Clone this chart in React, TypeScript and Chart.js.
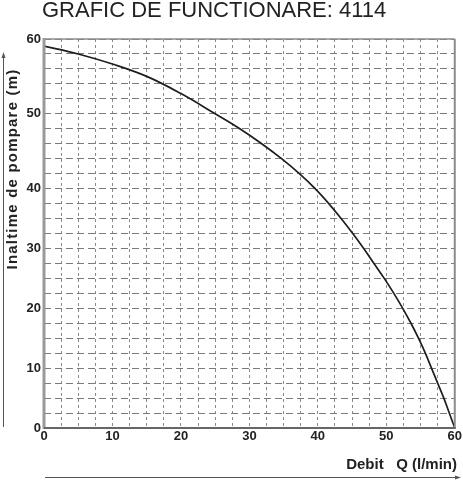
import React, { useEffect, useRef } from 'react';
import { Chart, registerables, LinearScale } from 'chart.js';

// ---- data ----
const FLOW_LPM = [0, 5, 10, 15, 20, 25, 28.6, 31.8, 34.7, 37.3, 39.6, 41.6, 43.4, 45.1, 46.7, 48.2, 49.7, 51.1, 52.4, 53.6, 54.7, 55.7, 56.6, 57.5, 58.4, 59.2, 60];
const HEAD_M = [59.05, 58.0, 56.65, 55.0, 52.7, 50.0, 48.0, 46.0, 44.0, 42.0, 40.0, 37.5, 35.0, 32.5, 30.0, 27.5, 25.0, 22.5, 20.0, 17.5, 15.0, 12.5, 10.0, 7.5, 5.0, 2.5, 0];

const X_TICK_LABELS = [0, 10, 20, 30, 40, 50, 60];
const Y_TICK_LABELS = [0, 10, 20, 30, 40, 50, 60];
// horizontal grid lines of the original sheet (2.5 m steps up to 40, then 2 m steps)
const Y_GRID_VALUES = [0, 2.5, 5, 7.5, 10, 12.5, 15, 17.5, 20, 22.5, 25, 27.5, 30, 32.5, 35, 37.5, 40, 42, 44, 46, 48, 50, 52, 54, 56, 58, 60];

const TITLE = 'GRAFIC DE FUNCTIONARE: 4114';
const Y_TITLE = 'Inaltime de pompare (m)';
const X_TITLE = 'Debit   Q (l/min)';

// The printed sheet's vertical axis is piecewise linear: 0-40 m uses 16 grid rows, 40-60 m uses 10.
const AXIS_BREAK_VALUES = [0, 40, 60];
const AXIS_BREAK_FRACTIONS = [0, 16 / 26, 1];

function valueToFraction(v: number) {
  const bv = AXIS_BREAK_VALUES, bf = AXIS_BREAK_FRACTIONS;
  for (let i = 1; i < bv.length; i++) {
    if (v <= bv[i] || i === bv.length - 1) {
      const t = (v - bv[i - 1]) / (bv[i] - bv[i - 1]);
      return bf[i - 1] + t * (bf[i] - bf[i - 1]);
    }
  }
  return 0;
}
function fractionToValue(f: number) {
  const bv = AXIS_BREAK_VALUES, bf = AXIS_BREAK_FRACTIONS;
  for (let i = 1; i < bf.length; i++) {
    if (f <= bf[i] || i === bf.length - 1) {
      const t = (f - bf[i - 1]) / (bf[i] - bf[i - 1]);
      return bv[i - 1] + t * (bv[i] - bv[i - 1]);
    }
  }
  return 0;
}

class BrokenLinearScale extends LinearScale {
  static id = 'brokenLinear';
  static defaults = LinearScale.defaults;
  getPixelForValue(value: any) {
    if (value === null || value === undefined || isNaN(value)) return NaN;
    return this.getPixelForDecimal(valueToFraction(value));
  }
  getValueForPixel(pixel: number) {
    return fractionToValue(this.getDecimalForPixel(pixel));
  }
}

Chart.register(...registerables, BrokenLinearScale as any);

const FONT = "'Liberation Sans', Arial, sans-serif";

const decorPlugin = {
  id: 'decor',
  afterDatasetsDraw(chart: any) {
    const { ctx, chartArea: a } = chart;
    ctx.save();
    ctx.lineCap = 'butt';
    ctx.strokeStyle = '#8c8c8c';
    ctx.lineWidth = 1.5;
    ctx.beginPath();
    ctx.moveTo(a.left, a.top);
    ctx.lineTo(a.right, a.top);
    ctx.stroke();
    ctx.lineWidth = 2;
    ctx.beginPath();
    ctx.moveTo(a.right, a.top);
    ctx.lineTo(a.right, a.bottom);
    ctx.stroke();
    ctx.strokeStyle = '#9a9a9a';
    ctx.lineWidth = 3;
    ctx.beginPath();
    ctx.moveTo(a.left, a.top - 1);
    ctx.lineTo(a.left, a.bottom + 1);
    ctx.stroke();
    ctx.strokeStyle = '#666';
    ctx.lineWidth = 2;
    ctx.beginPath();
    ctx.moveTo(a.left, a.bottom);
    ctx.lineTo(a.right + 1, a.bottom);
    ctx.stroke();
    ctx.restore();
  },
  afterDraw(chart: any) {
    const { ctx } = chart;
    ctx.save();
    ctx.fillStyle = '#222';
    ctx.font = `22px ${FONT}`;
    ctx.textAlign = 'left';
    ctx.textBaseline = 'alphabetic';
    ctx.fillText(TITLE, 42, 17);
    ctx.save();
    ctx.translate(13, 169);
    ctx.rotate(-Math.PI / 2);
    ctx.font = `bold 15px ${FONT}`;
    (ctx as any).letterSpacing = '1.2px';
    ctx.textAlign = 'center';
    ctx.textBaseline = 'middle';
    ctx.fillText(Y_TITLE, 0, 0);
    ctx.restore();
    ctx.font = `bold 15px ${FONT}`;
    ctx.textAlign = 'right';
    ctx.textBaseline = 'alphabetic';
    ctx.fillText(X_TITLE, 457, 469);
    ctx.strokeStyle = '#555';
    ctx.fillStyle = '#555';
    ctx.lineWidth = 1;
    ctx.beginPath();
    ctx.moveTo(3.5, 427);
    ctx.lineTo(3.5, 55);
    ctx.stroke();
    ctx.beginPath();
    ctx.moveTo(3.5, 52);
    ctx.lineTo(1.5, 58);
    ctx.lineTo(5.5, 58);
    ctx.closePath();
    ctx.fill();
    ctx.beginPath();
    ctx.moveTo(45, 477.5);
    ctx.lineTo(457, 477.5);
    ctx.stroke();
    ctx.beginPath();
    ctx.moveTo(461, 477.5);
    ctx.lineTo(455, 475.5);
    ctx.lineTo(455, 479.5);
    ctx.closePath();
    ctx.fill();
    ctx.restore();
  },
};

export default function App() {
  const canvasRef = useRef<HTMLCanvasElement | null>(null);

  useEffect(() => {
    if (!canvasRef.current) return;
    const points = FLOW_LPM.map((x, i) => ({ x, y: HEAD_M[i] }));
    const chart = new Chart(canvasRef.current, {
      type: 'line',
      data: {
        datasets: [
          {
            data: points,
            borderColor: '#1e1e1e',
            borderWidth: 1.7,
            pointRadius: 0,
            fill: false,
            tension: 0.4,
          },
        ],
      },
      options: {
        animation: false,
        responsive: false,
        devicePixelRatio: 1,
        layout: { padding: { top: 39, left: 0, right: 8, bottom: 0 } },
        plugins: {
          legend: { display: false },
          tooltip: { enabled: false },
          title: { display: false },
        },
        scales: {
          x: {
            type: 'linear',
            min: 0,
            max: 60,
            afterFit: (s: any) => {
              s.height = 52;
            },
            ticks: {
              stepSize: 2.5,
              autoSkip: false,
              maxRotation: 0,
              padding: 1,
              color: '#222',
              font: { family: FONT, size: 13, weight: 'bold' },
              callback: (v: any) => (X_TICK_LABELS.includes(Number(v)) ? String(v) : ''),
            },
            grid: { color: '#8a8a8a', lineWidth: 1, drawTicks: false },
            border: { display: false, dash: [3, 3] },
          },
          y: {
            type: 'brokenLinear' as any,
            min: 0,
            max: 60,
            afterFit: (s: any) => {
              s.width = 44;
            },
            afterBuildTicks: (s: any) => {
              s.ticks = Y_GRID_VALUES.map((v) => ({ value: v }));
            },
            ticks: {
              autoSkip: false,
              padding: 3,
              color: '#222',
              font: { family: FONT, size: 13, weight: 'bold' },
              callback: (v: any) => (Y_TICK_LABELS.includes(Number(v)) ? String(v) : ''),
            },
            grid: { color: '#7a7a7a', lineWidth: 1, drawTicks: false },
            border: { display: false, dash: [7, 4] },
          },
        },
      },
      plugins: [decorPlugin],
    } as any);
    return () => chart.destroy();
  }, []);

  return (
    <div style={{ position: 'absolute', left: 0, top: 0, width: 463, height: 480, background: '#fff' }}>
      <canvas ref={canvasRef} width={463} height={480} style={{ width: 463, height: 480 }} />
    </div>
  );
}
